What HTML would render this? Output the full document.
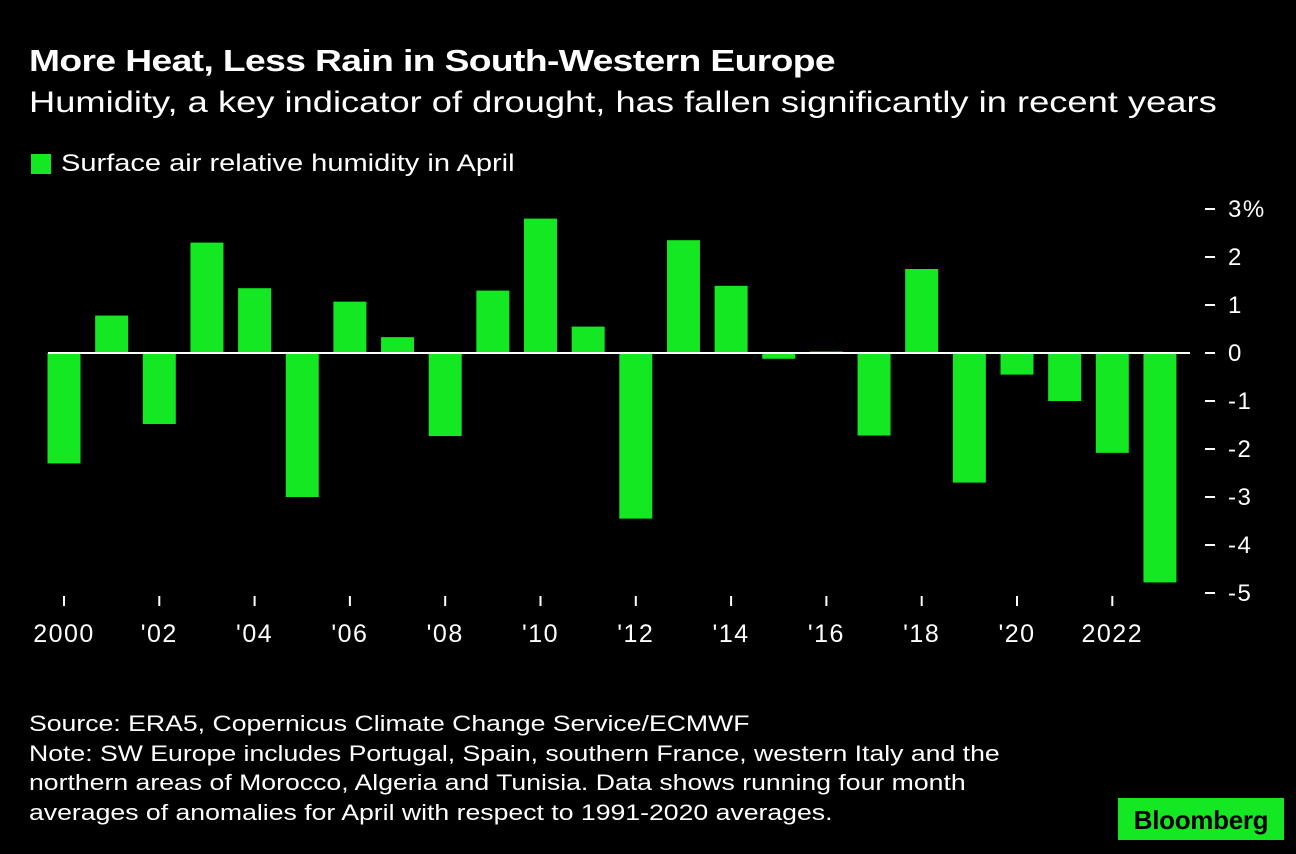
<!DOCTYPE html>
<html><head><meta charset="utf-8"><style>
body{margin:0;background:#000;width:1296px;height:854px;overflow:hidden;font-family:"Liberation Sans",sans-serif;color:#fff;position:relative}
.t{position:absolute;white-space:nowrap;transform-origin:0 0}
</style></head><body>
<div class="t" style="left:29px;top:43px;font-size:31px;font-weight:bold;letter-spacing:-0.5px;transform:scaleX(1.2)">More Heat, Less Rain in South-Western Europe</div>
<div class="t" style="left:29px;top:86px;font-size:30px;transform:scaleX(1.21)">Humidity, a key indicator of drought, has fallen significantly in recent years</div>
<div class="t" style="left:31px;top:150px;font-size:24px"><span style="display:inline-block;width:20px;height:20px;background:#13e823;vertical-align:-3px;margin-right:10px"></span><span style="display:inline-block;transform:scaleX(1.21);transform-origin:0 0">Surface air relative humidity in April</span></div>
<svg id="chart" width="1296" height="700" style="position:absolute;left:0;top:0"></svg>
<div class="t" style="left:29px;top:709px;font-size:22px;line-height:29.5px;transform:scaleX(1.21)">Source: ERA5, Copernicus Climate Change Service/ECMWF<br>Note: SW Europe includes Portugal, Spain, southern France, western Italy and the<br>northern areas of Morocco, Algeria and Tunisia. Data shows running four month<br>averages of anomalies for April with respect to 1991-2020 averages.</div>
<div class="t" style="left:1118px;top:798px;width:166px;height:42px;background:#13e823;color:#000;font-weight:bold;font-size:26px;letter-spacing:-0.3px;text-align:center;line-height:44px">Bloomberg</div>
<script>
const years=[2000,2001,2002,2003,2004,2005,2006,2007,2008,2009,2010,2011,2012,2013,2014,2015,2016,2017,2018,2019,2020,2021,2022,2023];
const values=[-2.3,0.78,-1.48,2.3,1.35,-3.0,1.07,0.33,-1.73,1.3,2.8,0.55,-3.45,2.35,1.4,-0.12,0.03,-1.72,1.75,-2.7,-0.45,-1.0,-2.08,-4.78];
const yTicks=[3,2,1,0,-1,-2,-3,-4,-5];
const yTickLabels=["3%","2","1","0","-1","-2","-3","-4","-5"];
const xTickYears=[2000,2002,2004,2006,2008,2010,2012,2014,2016,2018,2020,2022];
const xTickLabels=["2000","'02","'04","'06","'08","'10","'12","'14","'16","'18","'20","2022"];
const svg=document.getElementById('chart');const NS='http://www.w3.org/2000/svg';
const x=yr=>64+(yr-2000)*47.65;
const y=v=>353-v*48;
function mk(tag,attrs){const e=document.createElementNS(NS,tag);for(const k in attrs)e.setAttribute(k,attrs[k]);svg.appendChild(e);return e;}
years.forEach((yr,i)=>{const v=values[i];
const r=mk('rect',{x:x(yr)-16.5,y:Math.min(y(v),y(0)),width:33,height:Math.max(Math.abs(y(v)-y(0)),1),fill:'#13e823'});

});
const z=mk('line',{x1:48,x2:1190,y1:y(0),y2:y(0),stroke:'#fff','stroke-width':2});


yTicks.forEach((v,i)=>{const l=mk('line',{x1:1205,x2:1215,y1:y(v),y2:y(v),stroke:'#fff','stroke-width':2});


const t=mk('text',{x:1228,y:y(v)+8,fill:'#fff','font-size':24,'letter-spacing':1.5,'font-family':'Liberation Sans, sans-serif'});t.textContent=yTickLabels[i];

});
xTickYears.forEach((yr,i)=>{const l=mk('line',{x1:x(yr),x2:x(yr),y1:596,y2:606,stroke:'#fff','stroke-width':2});


const t=mk('text',{x:x(yr),y:642,fill:'#fff','font-size':25,'letter-spacing':1.5,'text-anchor':'middle','font-family':'Liberation Sans, sans-serif'});t.textContent=xTickLabels[i];

});
</script>
</body></html>
